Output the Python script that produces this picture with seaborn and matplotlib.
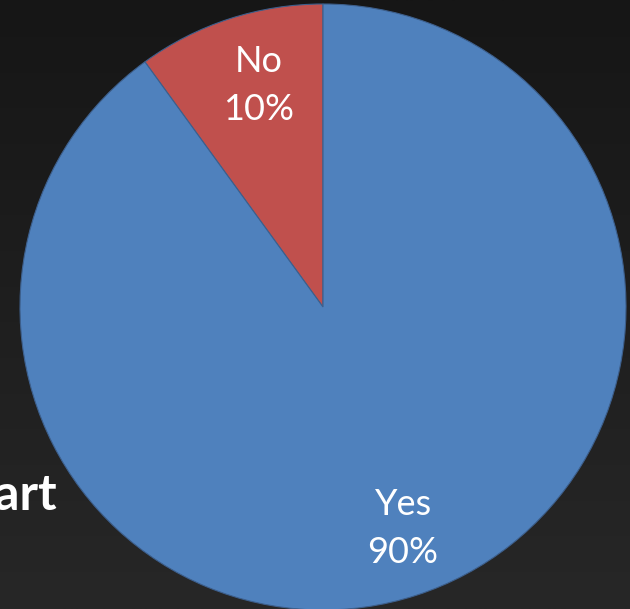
import numpy as np
import matplotlib
matplotlib.use("Agg")
import matplotlib.pyplot as plt
import seaborn as sns

sns.set_theme(style="white")
plt.rcParams["font.family"] = ["Lato", "DejaVu Sans"]

# Survey answers and their shares (percent)
answers = ["No", "Yes"]
shares = [10, 90]
colors = ["#C0504D", "#4F81BD"]
title_text = "Chart"

W, H, DPI = 630, 609, 100
fig = plt.figure(figsize=(W / DPI, H / DPI), dpi=DPI)

# Dark vertical gradient background
bg = fig.add_axes([0, 0, 1, 1], zorder=0)
grad = np.linspace(0, 1, 256).reshape(-1, 1)
bg.imshow(grad, aspect="auto", cmap=matplotlib.colors.LinearSegmentedColormap.from_list(
    "bgc", ["#161616", "#272727"]), extent=[0, 1, 0, 1], origin="upper")
bg.set_axis_off()

# Title text partially hidden behind the pie
fig.text(57 / W, 1 - 510 / H, title_text, ha="right", va="baseline",
         color="white", fontsize=36, fontweight="bold", zorder=1)

ax = fig.add_axes([0, 0, 1, 1], zorder=2)
ax.patch.set_alpha(0)
r_px = 303.0
cx, cy = 323.0, 307.0

labels = [f"{a}\n{s}%" for a, s in zip(answers, shares)]
wedges, texts = ax.pie(
    shares, labels=labels, colors=colors, startangle=90, counterclock=True,
    labeldistance=0.77, radius=1.0,
    wedgeprops=dict(edgecolor="#3d5f8c", linewidth=0.8),
    textprops=dict(color="white", fontsize=26, ha="center", va="center",
                   linespacing=1.55),
)
# nudge labels slightly to the right
for t in texts:
    x, y = t.get_position()
    t.set_position((x + 8 / r_px, y))

ax.set_xlim(-cx / r_px, (W - cx) / r_px)
ax.set_ylim(-(H - cy) / r_px, cy / r_px)
ax.set_axis_off()

fig.savefig("out.png", dpi=DPI)
